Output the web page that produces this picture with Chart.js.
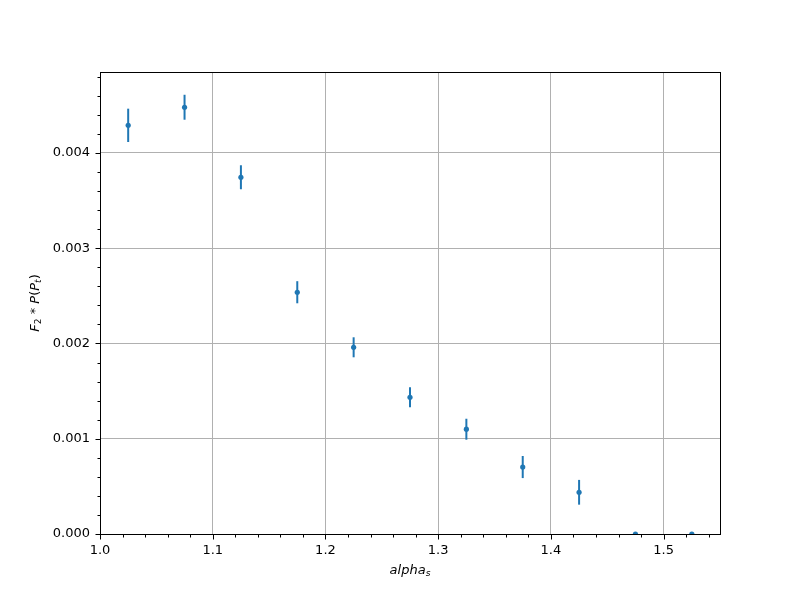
<!DOCTYPE html>
<html>
<head>
<meta charset="utf-8">
<script src="https://cdn.jsdelivr.net/npm/chart.js@4/dist/chart.umd.min.js"></script>
<style>
  body { margin: 0; background: #fff; }
  canvas { display: block; }
</style>
</head>
<body>
<canvas id="chart" width="800" height="600"></canvas>
<script>
// データ
const xValues = [1.025, 1.075, 1.125, 1.175, 1.225, 1.275, 1.325, 1.375, 1.425, 1.475, 1.525];
const yValues = [0.00429, 0.00448, 0.003745, 0.002538, 0.00196, 0.001435, 0.0011, 0.000703, 0.000438, 0, 0];
const yErrors = [0.000175, 0.000131, 0.000126, 0.000116, 0.000105, 0.000105, 0.00011, 0.000116, 0.00013, 0, 0];

// 軸の設定
const xMin = 1.0, xMax = 1.55, xMajor = 0.1, xMinor = 0.02;
const yMin = 0, yMax = 0.00485, yMajor = 0.001, yMinor = 0.0002;

const pointColor = '#1f77b4';
const gridColor = '#b0b0b0';
const fontFamily = '"DejaVu Sans", sans-serif';

function isMajor(value, step) {
    const r = value / step;
    return Math.abs(r - Math.round(r)) < 1e-6;
}

// エラーバー描画プラグイン
const errorBarPlugin = {
    id: 'errorBars',
    beforeDatasetsDraw(chart) {
        const ctx = chart.ctx;
        const xs = chart.scales.x;
        const ys = chart.scales.y;
        const area = chart.chartArea;
        ctx.save();
        ctx.beginPath();
        ctx.rect(area.left, area.top, area.right - area.left, area.bottom - area.top);
        ctx.clip();
        ctx.strokeStyle = pointColor;
        ctx.lineWidth = 2;
        for (let i = 0; i < xValues.length; i++) {
            if (!yErrors[i]) continue;
            const px = xs.getPixelForValue(xValues[i]);
            ctx.beginPath();
            ctx.moveTo(px, ys.getPixelForValue(yValues[i] - yErrors[i]));
            ctx.lineTo(px, ys.getPixelForValue(yValues[i] + yErrors[i]));
            ctx.stroke();
        }
        ctx.restore();
    }
};

// 数式風テキスト（斜体・下付き）を中央揃えで描く
function drawMath(ctx, parts, size) {
    let width = 0;
    parts.forEach(p => {
        const s = p.sub ? size * 0.7 : size;
        ctx.font = (p.italic ? 'italic ' : '') + s + 'px ' + fontFamily;
        width += ctx.measureText(p.t).width;
    });
    let x = -width / 2;
    parts.forEach(p => {
        const s = p.sub ? size * 0.7 : size;
        ctx.font = (p.italic ? 'italic ' : '') + s + 'px ' + fontFamily;
        ctx.fillText(p.t, x, p.sub ? size * 0.22 : 0);
        x += ctx.measureText(p.t).width;
    });
}

// 枠線・目盛り・軸ラベルの描画
const framePlugin = {
    id: 'frame',
    afterDraw(chart) {
        const ctx = chart.ctx;
        const area = chart.chartArea;
        const xs = chart.scales.x;
        const ys = chart.scales.y;
        const l = Math.round(area.left) + 0.5;
        const r = Math.round(area.right) + 0.5;
        const t = Math.round(area.top) + 0.5;
        const b = Math.round(area.bottom) + 0.5;
        ctx.save();
        ctx.strokeStyle = '#000';
        ctx.lineWidth = 1;
        ctx.strokeRect(l, t, r - l, b - t);

        // 目盛り線
        ctx.beginPath();
        xs.ticks.forEach(tk => {
            const px = Math.round(xs.getPixelForValue(tk.value)) + 0.5;
            const len = isMajor(tk.value, xMajor) ? 5 : 3;
            ctx.moveTo(px, b);
            ctx.lineTo(px, b + len);
        });
        ys.ticks.forEach(tk => {
            const py = Math.round(ys.getPixelForValue(tk.value)) + 0.5;
            const len = isMajor(tk.value, yMajor) ? 5 : 3;
            ctx.moveTo(l, py);
            ctx.lineTo(l - len, py);
        });
        ctx.stroke();

        // 軸タイトル
        ctx.fillStyle = '#000';
        ctx.textBaseline = 'middle';
        ctx.textAlign = 'left';
        ctx.save();
        ctx.translate((area.left + area.right) / 2, 571);
        drawMath(ctx, [{t: 'alpha', italic: true}, {t: 's', italic: true, sub: true}], 13);
        ctx.restore();

        ctx.save();
        ctx.translate(36, (area.top + area.bottom) / 2);
        ctx.rotate(-Math.PI / 2);
        drawMath(ctx, [
            {t: 'F', italic: true}, {t: '2', sub: true},
            {t: ' * '}, {t: 'P', italic: true}, {t: '('},
            {t: 'P', italic: true}, {t: 't', italic: true, sub: true}, {t: ')'}
        ], 13);
        ctx.restore();
        ctx.restore();
    }
};

const ctx = document.getElementById('chart').getContext('2d');
new Chart(ctx, {
    type: 'scatter',
    data: {
        datasets: [{
            data: xValues.map((x, i) => ({x: x, y: yValues[i]})),
            backgroundColor: pointColor,
            borderColor: pointColor,
            pointRadius: 2.6,
            pointBorderWidth: 0,
            clip: 0
        }]
    },
    options: {
        responsive: false,
        devicePixelRatio: 1,
        animation: false,
        events: [],
        layout: { padding: { left: 0, right: 80, top: 72, bottom: 0 } },
        plugins: {
            legend: { display: false },
            tooltip: { enabled: false }
        },
        scales: {
            x: {
                type: 'linear',
                min: xMin,
                max: xMax,
                afterFit(scale) { scale.height = 66; },
                border: { display: false },
                grid: {
                    drawTicks: false,
                    lineWidth: 1,
                    color: c => isMajor(c.tick.value, xMajor) ? gridColor : 'rgba(0,0,0,0)'
                },
                ticks: {
                    stepSize: xMinor,
                    includeBounds: false,
                    autoSkip: false,
                    maxRotation: 0,
                    padding: 9,
                    color: '#000',
                    font: { family: fontFamily, size: 13 },
                    callback: v => isMajor(v, xMajor) ? v.toFixed(1) : ''
                }
            },
            y: {
                type: 'linear',
                min: yMin,
                max: yMax,
                afterFit(scale) { scale.width = 100; },
                border: { display: false },
                grid: {
                    drawTicks: false,
                    lineWidth: 1,
                    color: c => isMajor(c.tick.value, yMajor) ? gridColor : 'rgba(0,0,0,0)'
                },
                ticks: {
                    stepSize: yMinor,
                    includeBounds: false,
                    autoSkip: false,
                    padding: 10,
                    color: '#000',
                    font: { family: fontFamily, size: 13 },
                    callback: v => isMajor(v, yMajor) ? v.toFixed(3) : ''
                }
            }
        }
    },
    plugins: [errorBarPlugin, framePlugin]
});
</script>
</body>
</html>
